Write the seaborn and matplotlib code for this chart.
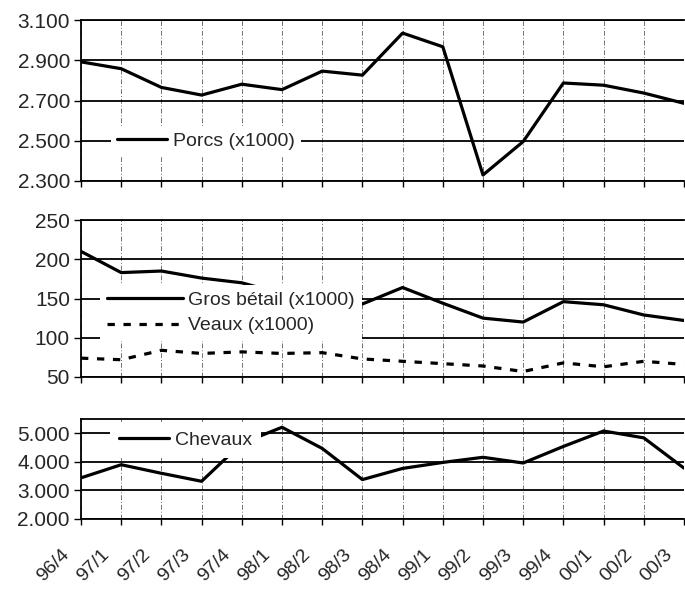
import matplotlib
matplotlib.use("Agg")
import matplotlib.pyplot as plt
import seaborn as sns
import pandas as pd
from matplotlib.ticker import FuncFormatter, FixedLocator
from matplotlib.transforms import ScaledTranslation

quarters = ["96/4", "97/1", "97/2", "97/3", "97/4", "98/1", "98/2", "98/3",
            "98/4", "99/1", "99/2", "99/3", "99/4", "00/1", "00/2", "00/3"]
porcs = [2892, 2858, 2765, 2727, 2781, 2754, 2846, 2826,
         3035, 2967, 2330, 2496, 2787, 2776, 2737, 2686]
gros_betail = [210, 183, 185, 176, 170, 156, 150, 143,
               164, 144, 125, 120, 146, 142, 129, 122]
veaux = [74, 72, 84, 80, 82, 80, 81, 73,
         70, 67, 64, 57, 68, 63, 70, 66]
chevaux = [3440, 3900, 3600, 3320, 4650, 5210, 4470, 3380,
           3770, 3980, 4160, 3960, 4540, 5080, 4840, 3780]

df = pd.DataFrame({
    "pos": range(len(quarters)),
    "quarter": quarters,
    "porcs": porcs,
    "gros": gros_betail,
    "veaux": veaux,
    "chevaux": chevaux,
})

sns.set_theme(style="white")
plt.rcParams["font.family"] = ["Liberation Sans", "DejaVu Sans"]
plt.rcParams["font.size"] = 14

W, H = 685, 592
fig = plt.figure(figsize=(W / 100, H / 100), dpi=100)


def panel(y_top, y_bot):
    return fig.add_axes([81 / W, 1 - y_bot / H, (684 - 81) / W, (y_bot - y_top) / H])


ax1 = panel(20, 181)
ax2 = panel(220, 377)
ax3 = panel(419, 519)

lw = 2.3
sns.lineplot(data=df, x="pos", y="porcs", ax=ax1, color="black", lw=lw,
             label="Porcs (x1000)")
sns.lineplot(data=df, x="pos", y="gros", ax=ax2, color="black", lw=lw,
             label="Gros b\u00e9tail (x1000)")
sns.lineplot(data=df, x="pos", y="veaux", ax=ax2, color="black", lw=lw,
             linestyle=(0, (2.3, 2.7)), label="Veaux (x1000)")
sns.lineplot(data=df, x="pos", y="chevaux", ax=ax3, color="black", lw=lw,
             label="Chevaux")

thousands = FuncFormatter(lambda v, p: f"{v:,.0f}".replace(",", "."))

ax1.set_ylim(2300, 3100)
ax1.yaxis.set_major_locator(FixedLocator([2300, 2500, 2700, 2900, 3100]))
ax1.yaxis.set_major_formatter(thousands)
ax2.set_ylim(50, 250)
ax2.yaxis.set_major_locator(FixedLocator([50, 100, 150, 200, 250]))
ax3.set_ylim(2000, 5500)
ax3.yaxis.set_major_locator(FixedLocator([2000, 3000, 4000, 5000]))
ax3.yaxis.set_major_formatter(thousands)

for ax in (ax1, ax2, ax3):
    ax.set_xlim(0, len(quarters) - 1)
    ax.set_xticks(range(len(quarters)))
    ax.set_xlabel("")
    ax.set_ylabel("")
    ax.grid(False)
    ax.yaxis.grid(True, color="black", lw=1.3, ls="-")
    ax.xaxis.grid(True, color="0.45", lw=0.7, ls=(0, (5, 2, 1, 2)))
    ax.set_axisbelow(True)
    for side in ("left", "top", "bottom"):
        ax.spines[side].set_visible(True)
        ax.spines[side].set_color("black")
        ax.spines[side].set_linewidth(1.3)
    ax.spines["right"].set_visible(False)
    ax.tick_params(axis="y", length=5, width=1, color="black",
                   direction="out", left=True, labelsize=15, pad=3)
    ax.tick_params(axis="x", length=4, width=1, color="black",
                   direction="out", bottom=True, labelsize=14)

ax1.set_xticklabels([])
ax2.set_xticklabels([])
ax3.set_xticklabels(quarters, rotation=45, ha="right", rotation_mode="anchor")
shift = ScaledTranslation(-20 / 100, -17 / 100, fig.dpi_scale_trans)
for lab in ax3.get_xticklabels():
    lab.set_transform(lab.get_transform() + shift)

leg_kw = dict(frameon=True, facecolor="white", edgecolor="none", framealpha=1,
              fancybox=False, fontsize=14, borderaxespad=0, handletextpad=0.3,
              loc="center left")
ax1.legend(bbox_to_anchor=(111 / W, 1 - 141 / H), bbox_transform=fig.transFigure,
           handlelength=2.6, borderpad=0.3, **leg_kw)
ax2.legend(bbox_to_anchor=(100 / W, 1 - 313 / H), bbox_transform=fig.transFigure,
           handlelength=3.9, borderpad=0.35, labelspacing=0.4, **leg_kw)
ax3.legend(bbox_to_anchor=(110 / W, 1 - 440 / H), bbox_transform=fig.transFigure,
           handlelength=2.6, borderpad=0.45, **leg_kw)

fig.savefig("out.png", dpi=100)
